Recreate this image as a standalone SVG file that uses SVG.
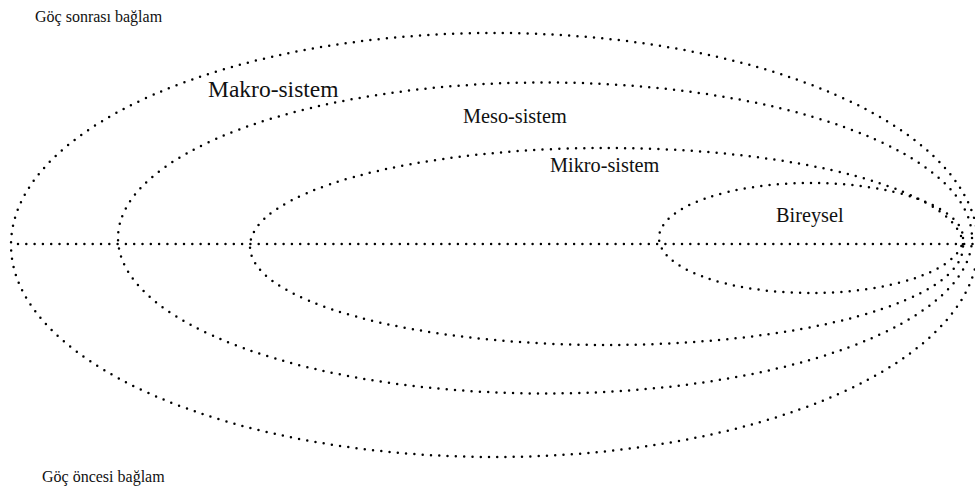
<svg xmlns="http://www.w3.org/2000/svg" width="975" height="488" viewBox="0 0 975 488">
<style>
.dot{fill:none;stroke:#000;stroke-width:2.5;stroke-linecap:round;stroke-dasharray:0 8.3}
.t{font-family:"Liberation Serif","Times New Roman",serif;fill:#111}
.s{font-size:16px}
.m{font-size:20.3px}
</style>
<rect width="975" height="488" fill="#fff"/>
<g id="connectors">
<line class="dot" x1="18" y1="244" x2="973" y2="244"/>
</g>
<g id="makro">
<ellipse class="dot" cx="494.5" cy="245" rx="483.5" ry="212"/>
<text class="t" x="208" y="97" font-size="23.5">Makro-sistem</text>
</g>
<g id="meso">
<ellipse class="dot" cx="545" cy="238" rx="427" ry="155.5"/>
<text class="t m" x="463" y="123">Meso-sistem</text>
</g>
<g id="mikro">
<ellipse class="dot" cx="606.5" cy="246.5" rx="356.5" ry="98.5"/>
<text class="t m" x="550" y="172">Mikro-sistem</text>
</g>
<g id="bireysel">
<ellipse class="dot" cx="811" cy="238" rx="152" ry="55"/>
<text class="t m" x="776" y="222">Bireysel</text>
</g>
<g id="labels">
<text class="t s" x="35" y="22">Göç sonrası bağlam</text>
<text class="t s" x="42" y="482">Göç öncesi bağlam</text>
</g>
</svg>
